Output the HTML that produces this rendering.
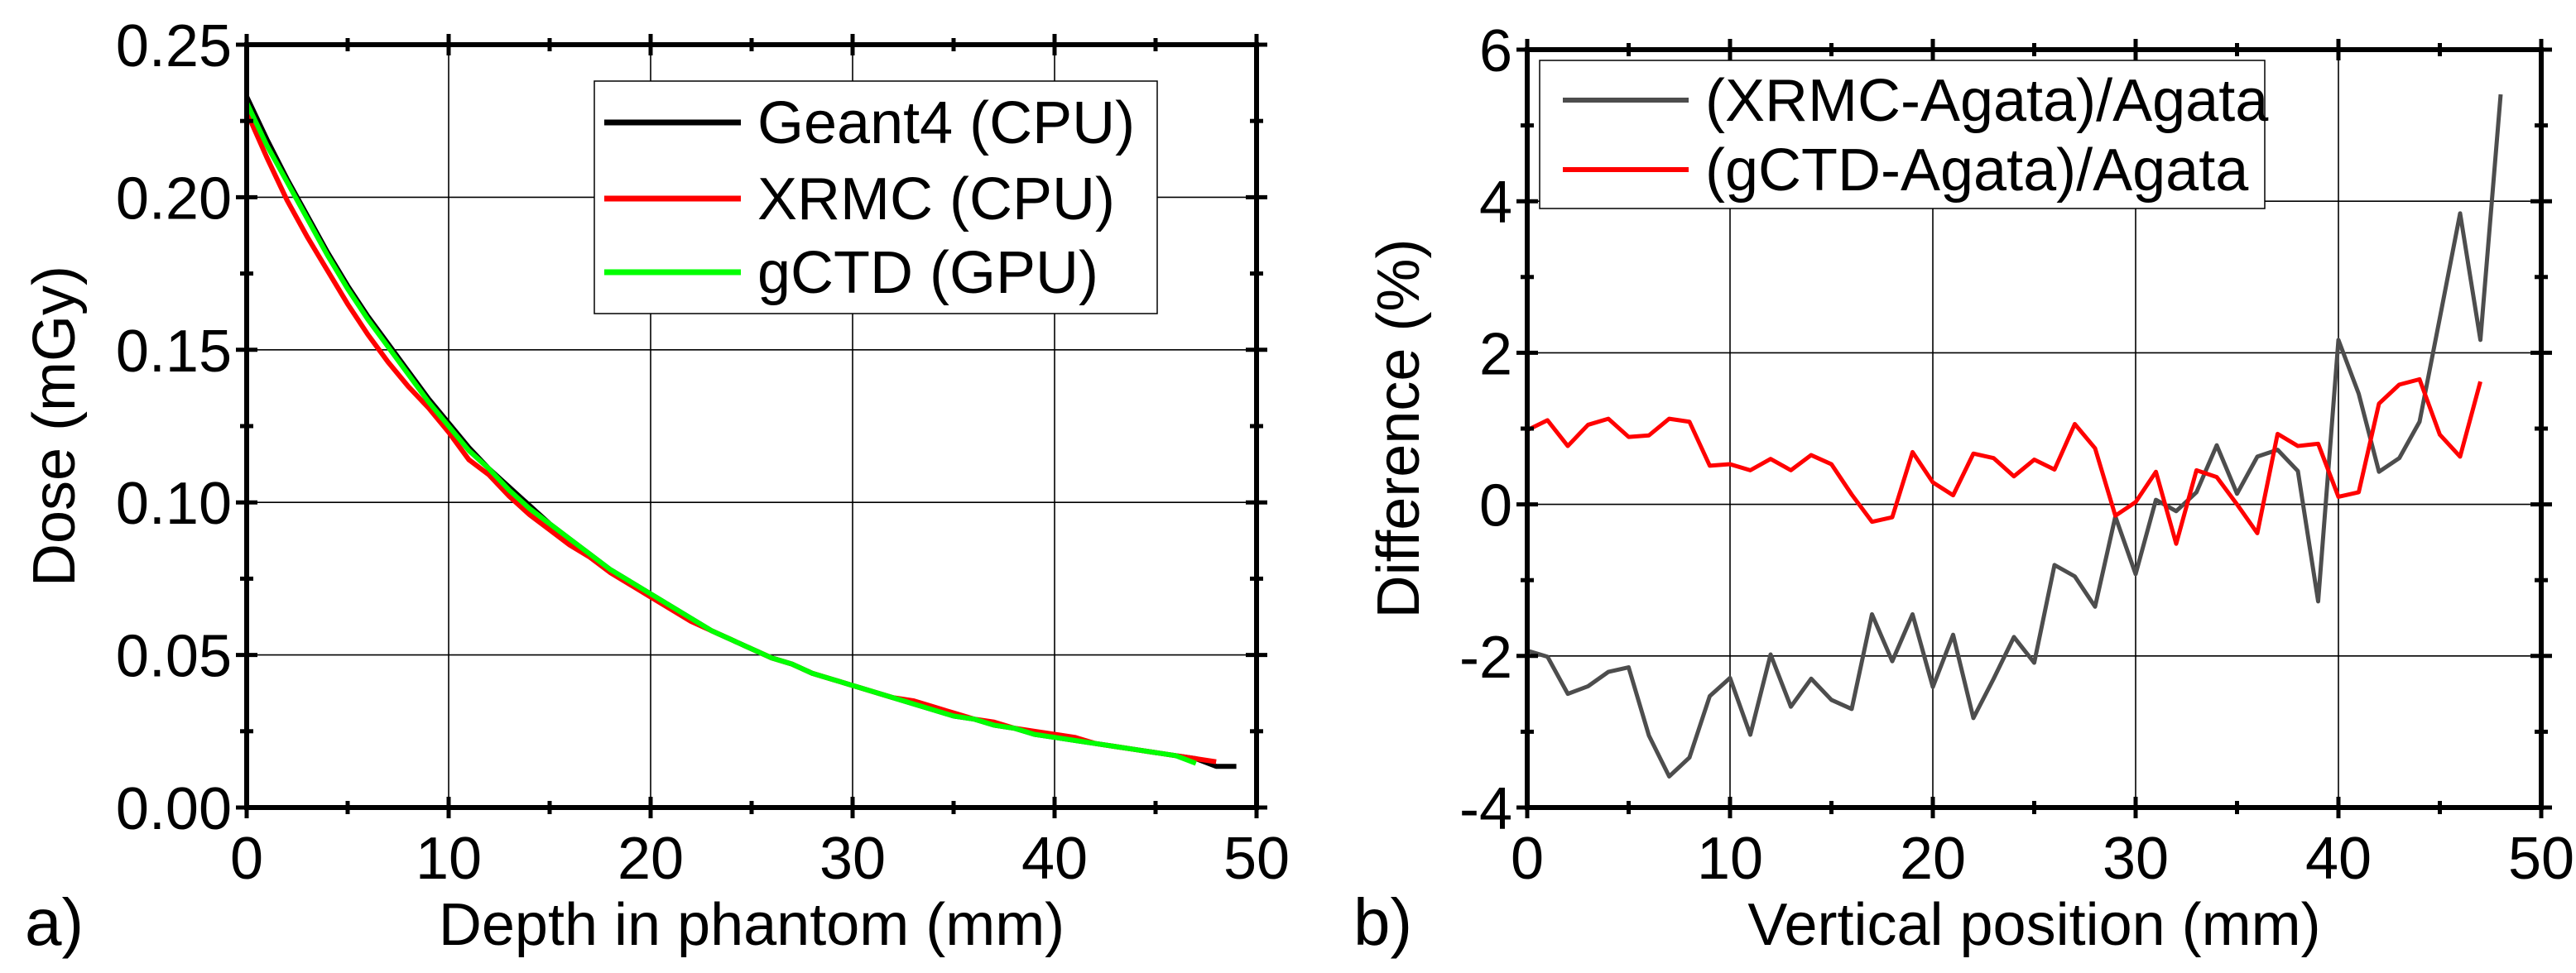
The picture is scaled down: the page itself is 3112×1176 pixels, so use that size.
<!DOCTYPE html>
<html><head><meta charset="utf-8"><style>
html,body{margin:0;padding:0;background:#fff;}
svg{display:block;font-family:"Liberation Sans",Arial,sans-serif;}
</style></head><body>
<svg id="fig" width="3112" height="1176" viewBox="0 0 3112 1176" xmlns="http://www.w3.org/2000/svg"></svg>
<script>
// Panel a data
const depthG = [0,1,2,3,4,5,6,7,8,9,10,11,12,13,14,15,16,17,18,19,20,21,22,23,24,25,26,27,28,29,30,31,32,33,34,35,36,37,38,39,40,41,42,43,44,45,46,47,48,49];
const geant4 = [.233,.219,.206,.194,.182,.171,.161,.152,.143,.134,.126,.118,.111,.105,.099,.093,.088,.083,.078,.074,.070,.066,.062,.058,.055,.052,.049,.047,.044,.042,.040,.038,.036,.034,.032,.030,.029,.027,.026,.024,.023,.022,.021,.020,.019,.018,.017,.016,.0135,.0135];
const xrmc = [.228,.213,.199,.187,.176,.165,.155,.146,.138,.131,.123,.114,.109,.102,.096,.091,.086,.082,.077,.073,.069,.065,.061,.058,.055,.052,.049,.047,.044,.042,.040,.038,.036,.035,.033,.031,.029,.028,.026,.025,.024,.023,.021,.020,.019,.018,.017,.016,.015];
const gctd = [.231,.217,.205,.193,.181,.170,.160,.151,.142,.133,.125,.117,.111,.104,.098,.093,.088,.083,.078,.074,.070,.066,.062,.058,.055,.052,.049,.047,.044,.042,.040,.038,.036,.034,.032,.030,.029,.027,.026,.024,.023,.022,.021,.020,.019,.018,.017,.0145];
const yTicksA = ["0.00","0.05","0.10","0.15","0.20","0.25"];
const xTicks = ["0","10","20","30","40","50"];
// Panel b data
const diffXrmc = [-1.93,-2.01,-2.50,-2.40,-2.21,-2.15,-3.05,-3.59,-3.34,-2.53,-2.29,-3.04,-1.98,-2.67,-2.30,-2.58,-2.70,-1.45,-2.07,-1.45,-2.41,-1.72,-2.82,-2.30,-1.75,-2.09,-0.80,-0.95,-1.35,-0.16,-0.92,0.06,-0.09,0.16,0.78,0.14,0.63,0.72,0.44,-1.28,2.17,1.46,0.43,0.61,1.09,2.46,3.84,2.17,5.41];
const diffGctd = [0.98,1.11,0.77,1.05,1.13,0.89,0.91,1.13,1.09,0.51,0.53,0.45,0.60,0.45,0.65,0.53,0.13,-0.23,-0.17,0.69,0.29,0.12,0.67,0.61,0.37,0.59,0.46,1.06,0.74,-0.15,0.03,0.43,-0.52,0.45,0.36,0.0,-0.38,0.93,0.77,0.80,0.10,0.16,1.33,1.58,1.65,0.92,0.63,1.62];
const yTicksB = ["-4","-2","0","2","4","6"];

const NS="http://www.w3.org/2000/svg";
const svg=document.getElementById('fig');
function mk(tag,attrs,parent){const e=document.createElementNS(NS,tag);for(const k in attrs)e.setAttribute(k,attrs[k]);(parent||svg).appendChild(e);return e;}

function panel(o){
  const g=mk('g',{});
  
  
  const sx=v=>o.x0+(v-o.xmin)/(o.xmax-o.xmin)*(o.x1-o.x0);
  const sy=v=>o.y1-(v-o.ymin)/(o.ymax-o.ymin)*(o.y1-o.y0);
  for(let i=0;i<o.yt.length;i++){const v=parseFloat(o.yt[i]);const y=sy(v);
    const l=mk('line',{x1:o.x0,x2:o.x1,y1:y,y2:y,stroke:'#000','stroke-width':1.6},g);
    }
  for(let i=0;i<xTicks.length;i++){const v=parseFloat(xTicks[i]);const x=sx(v);
    const l=mk('line',{x1:x,x2:x,y1:o.y0,y2:o.y1,stroke:'#000','stroke-width':1.6},g);
    }
  o.series.forEach(s=>{
    const pts=s.y.map((v,i)=>sx(s.x[i])+','+sy(v)).join(' ');
    const p=mk('polyline',{points:pts,fill:'none',stroke:s.color,'stroke-width':s.w,'stroke-linejoin':'round'},g);
    
  });
  const fr=mk('rect',{x:o.x0,y:o.y0,width:o.x1-o.x0,height:o.y1-o.y0,fill:'none',stroke:'#000','stroke-width':6},g);
  
  const nY=o.yt.length-1;
  for(let i=0;i<=nY*2;i++){const v=o.ymin+(o.ymax-o.ymin)*i/(nY*2);const y=sy(v);const L=(i%2==0)?13:8;
    mk('line',{x1:o.x0-L,x2:o.x0+L,y1:y,y2:y,stroke:'#000','stroke-width':5},g);
    mk('line',{x1:o.x1-L,x2:o.x1+L,y1:y,y2:y,stroke:'#000','stroke-width':5},g);}
  for(let i=0;i<=10;i++){const x=sx(o.xmin+(o.xmax-o.xmin)*i/10);const L=(i%2==0)?13:8;
    mk('line',{x1:x,x2:x,y1:o.y1-L,y2:o.y1+L,stroke:'#000','stroke-width':5},g);
    mk('line',{x1:x,x2:x,y1:o.y0-L,y2:o.y0+L,stroke:'#000','stroke-width':5},g);}
  o.yt.forEach(t=>{const e=mk('text',{x:o.x0-18,y:sy(parseFloat(t))+26,'text-anchor':'end','font-size':72},g);e.textContent=t;
    });
  xTicks.forEach(t=>{const e=mk('text',{x:sx(parseFloat(t)),y:o.y1+86,'text-anchor':'middle','font-size':72},g);e.textContent=t;
    });
  const xt=mk('text',{x:(o.x0+o.x1)/2,y:1142,'text-anchor':'middle','font-size':72},g);xt.textContent=o.xtitle;
  
  const yt=mk('text',{x:0,y:0,'text-anchor':'middle','font-size':72,transform:`translate(${o.ytx},${(o.y0+o.y1)/2}) rotate(-90)`},g);yt.textContent=o.ytitle;
  
  const pl=mk('text',{x:o.plx,y:1142,'font-size':80},g);pl.textContent=o.plabel;
  
  const lg=mk('g',{},g);
  mk('rect',{x:o.lg.x,y:o.lg.y,width:o.lg.w,height:o.lg.h,fill:'#fff',stroke:'#000','stroke-width':1.5},lg);
  o.series.forEach((s,i)=>{const y=o.lg.ry[i];
    const en=mk('g',{},lg);
    mk('line',{x1:o.lg.lx0,x2:o.lg.lx1,y1:y,y2:y,stroke:s.color,'stroke-width':s.w+1},en);
    const t=mk('text',{x:o.lg.tx,y:y+25,'font-size':72},en);t.textContent=s.label;});
}

panel({name:'panel-a-dose',x0:298,x1:1518,y0:54,y1:976,xmin:0,xmax:50,ymin:0,ymax:0.25,yt:yTicksA,
  xtitle:'Depth in phantom (mm)',ytitle:'Dose (mGy)',ytx:90,plabel:'a)',plx:30,
  series:[
    {name:'geant4-line',label:'Geant4 (CPU)',color:'#000',w:6,x:depthG,y:geant4},
    {name:'xrmc-line',label:'XRMC (CPU)',color:'#ff0000',w:6,x:depthG,y:xrmc},
    {name:'gctd-line',label:'gCTD (GPU)',color:'#00ff00',w:6,x:depthG,y:gctd}],
  lg:{x:718,y:98,w:680,h:281,lx0:730,lx1:895,tx:915,ry:[148,240,329]}});

panel({name:'panel-b-difference',x0:1845,x1:3070,y0:60,y1:976,xmin:0,xmax:50,ymin:-4,ymax:6,yt:yTicksB,
  xtitle:'Vertical position (mm)',ytitle:'Difference (%)',ytx:1714,plabel:'b)',plx:1635,
  series:[
    {name:'xrmc-diff-line',label:'(XRMC-Agata)/Agata',color:'#4d4d4d',w:5,x:depthG,y:diffXrmc},
    {name:'gctd-diff-line',label:'(gCTD-Agata)/Agata',color:'#ff0000',w:5,x:depthG,y:diffGctd}],
  lg:{x:1860,y:73,w:876,h:179,lx0:1888,lx1:2040,tx:2060,ry:[121,205]}});
</script>
</body></html>
